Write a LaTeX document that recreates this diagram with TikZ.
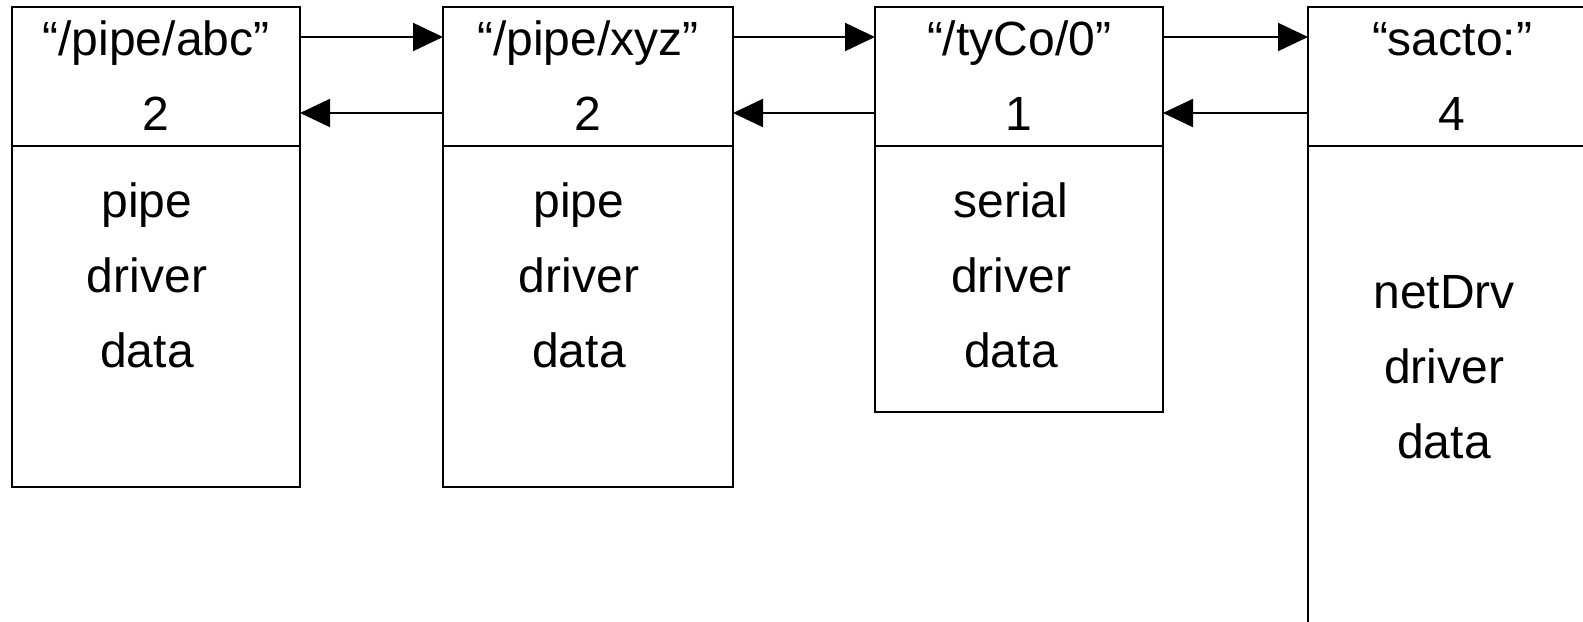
\documentclass[tikz,border=0pt]{standalone}
\usepackage{fontspec}
\setmainfont{Liberation Sans}
\usetikzlibrary{arrows.meta}
\tikzset{
  cell/.style={draw, line width=1pt, rectangle, inner sep=0pt, outer sep=0pt,
    anchor=north west, minimum width=144pt},
  lbl/.style={inner sep=0pt, anchor=base, font=\fontsize{24pt}{28pt}\selectfont},
  link/.style={line width=1pt, -{Triangle[length=15pt,width=14pt]}}
}
\begin{document}
\begin{tikzpicture}[x=0.5pt, y=-0.5pt]
  \useasboundingbox (0,0) rectangle (1583,621);
  \clip (0,0) rectangle (1583,621);
  \fill[white] (0,0) rectangle (1583,621);

  % device entries: header (name, count) and body (driver data)
  \node[cell, minimum height=69.5pt] (h1) at (12,7) {};
  \node[cell, minimum height=170.5pt] (d1) at (12,146) {};
  \node[cell, minimum width=145pt, minimum height=69.5pt] (h2) at (443,7) {};
  \node[cell, minimum width=145pt, minimum height=170.5pt] (d2) at (443,146) {};
  \node[cell, minimum height=69.5pt] (h3) at (875,7) {};
  \node[cell, minimum height=133pt] (h3b) at (875,146) {};
  \node[cell, minimum height=69.5pt] (h4) at (1308,7) {};
  \node[cell, minimum height=400pt] (d4) at (1308,146) {};

  % header texts
  \node[lbl] (n1) at (156,55) {“/pipe/abc”};
  \node[lbl] (c1) at (156,130) {2};
  \node[lbl] (n2) at (588,55) {“/pipe/xyz”};
  \node[lbl] (c2) at (588,130) {2};
  \node[lbl] (n3) at (1019,55) {“/tyCo/0”};
  \node[lbl] (c3) at (1019,130) {1};
  \node[lbl] (n4) at (1452,55) {“sacto:”};
  \node[lbl] (c4) at (1452,130) {4};

  % body texts
  \node[lbl] (p1) at (147,217) {pipe};
  \node[lbl] (q1) at (147,292) {driver};
  \node[lbl] (r1) at (147,367) {data};
  \node[lbl] (p2) at (579,217) {pipe};
  \node[lbl] (q2) at (579,292) {driver};
  \node[lbl] (r2) at (579,367) {data};
  \node[lbl] (p3) at (1011,217) {serial};
  \node[lbl] (q3) at (1011,292) {driver};
  \node[lbl] (r3) at (1011,367) {data};
  \node[lbl] (p4) at (1444,308) {netDrv};
  \node[lbl] (q4) at (1444,383) {driver};
  \node[lbl] (r4) at (1444,458) {data};

  % forward / backward links
  \coordinate (fw) at (0,37);
  \coordinate (bw) at (0,113);
  \draw[link] (h1.east |- fw) -- (h2.west |- fw);
  \draw[link] (h2.west |- bw) -- (h1.east |- bw);
  \draw[link] (h2.east |- fw) -- (h3.west |- fw);
  \draw[link] (h3.west |- bw) -- (h2.east |- bw);
  \draw[link] (h3.east |- fw) -- (h4.west |- fw);
  \draw[link] (h4.west |- bw) -- (h3.east |- bw);
\end{tikzpicture}
\end{document}
